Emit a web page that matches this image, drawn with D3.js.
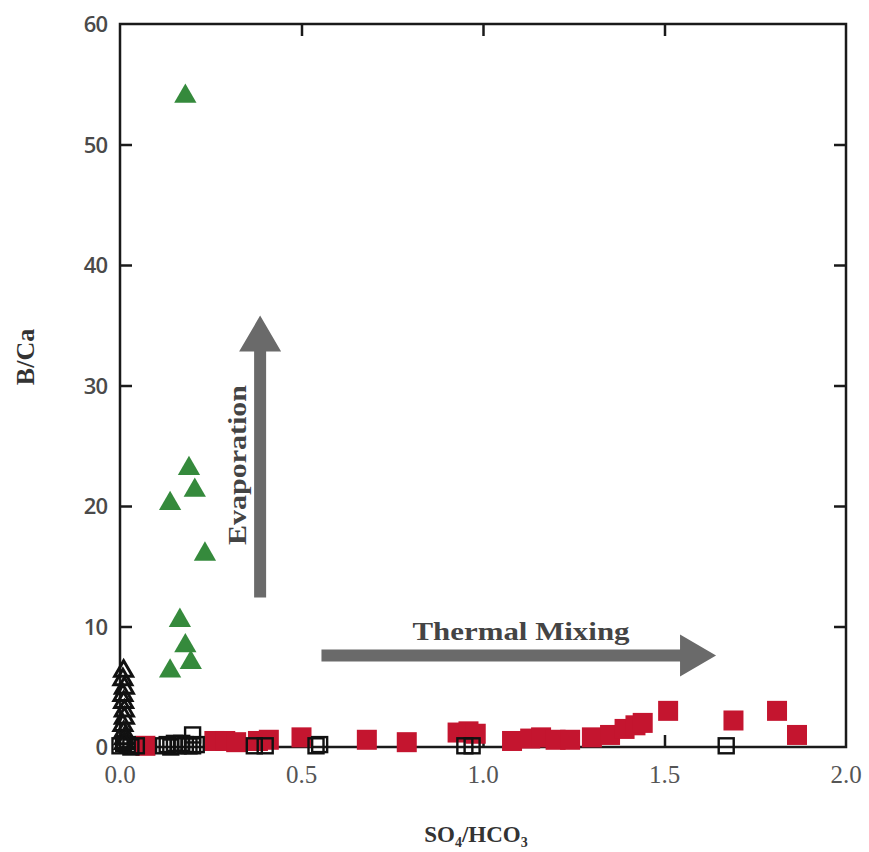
<!DOCTYPE html>
<html>
<head>
<meta charset="utf-8">
<script src="https://cdn.jsdelivr.net/npm/d3@7"></script>
<style>
  html, body { margin: 0; padding: 0; background: #fff; }
  svg { display: block; }
</style>
</head>
<body>
<svg id="chart" width="869" height="852"></svg>
<script>
// ---- Data (SO4/HCO3, B/Ca) ----
const greenTriangles = [
  [0.18, 54.0], [0.138, 20.2], [0.19, 23.1], [0.206, 21.3], [0.234, 16.0],
  [0.165, 10.5], [0.18, 8.4], [0.195, 7.0], [0.138, 6.3]
];
const blackTriangles = [
  [0.01, 6.3], [0.008, 5.6], [0.012, 4.9], [0.008, 4.3], [0.01, 3.7], [0.012, 3.0],
  [0.012, 2.4], [0.008, 1.8], [0.01, 1.2], [0.012, 0.7], [0.012, 0.3]
];
const blackSquares = [
  [0.0, 0.1], [0.01, 0.3], [0.02, 0.2], [0.03, 0.0], [0.045, 0.1],
  [0.12, 0.1], [0.13, 0.2], [0.14, 0.0], [0.15, 0.3], [0.16, 0.1], [0.17, 0.3],
  [0.18, 0.2], [0.19, 0.1], [0.2, 0.1], [0.21, 0.2], [0.2, 1.0],
  [0.37, 0.1], [0.4, 0.1], [0.54, 0.1],
  [0.55, 0.2], [0.95, 0.1], [0.97, 0.1], [1.67, 0.1]
];
const redSquares = [
  [0.07, 0.1], [0.26, 0.5], [0.29, 0.5], [0.32, 0.4], [0.38, 0.5], [0.41, 0.6],
  [0.5, 0.8], [0.68, 0.6], [0.79, 0.4], [0.93, 1.2], [0.96, 1.3], [0.98, 1.1],
  [1.08, 0.5], [1.13, 0.7], [1.16, 0.8], [1.2, 0.6], [1.24, 0.6], [1.3, 0.8],
  [1.35, 1.0], [1.39, 1.5], [1.42, 1.8], [1.44, 2.0], [1.51, 3.0], [1.69, 2.2],
  [1.81, 3.0], [1.865, 1.0]
];
const xTicks = [0, 0.5, 1.0, 1.5, 2.0];
const xTickLabels = ["0.0", "0.5", "1.0", "1.5", "2.0"];
const yTicks = [0, 10, 20, 30, 40, 50, 60];
const yTickLabels = ["0", "10", "20", "30", "40", "50", "60"];
// arrows in data coordinates: [x1,y1] -> [x2,y2]
const evapArrow = [[0.386, 12.4], [0.386, 35.8]];
const mixArrow = [[0.555, 7.6], [1.642, 7.6]];

// ---- Layout ----
const svg = d3.select("#chart");
const L = 120, R = 846, T = 24, B = 747;
const x = d3.scaleLinear().domain([0, 2]).range([L, R]);
const y = d3.scaleLinear().domain([0, 60]).range([B, T]);

svg.append("rect").attr("width", 869).attr("height", 852).attr("fill", "#fff");

// frame
svg.append("rect").attr("x", L).attr("y", T).attr("width", R - L).attr("height", B - T)
  .attr("fill", "none").attr("stroke", "#1a1a1a").attr("stroke-width", 2.5);

// inward ticks on all sides via d3 axes
const tickLen = 12;
const axB = d3.axisBottom(x).tickValues(xTicks.slice(1, -1)).tickSize(-tickLen).tickFormat("");
const axT = d3.axisTop(x).tickValues(xTicks.slice(1, -1)).tickSize(-tickLen).tickFormat("");
const axL = d3.axisLeft(y).tickValues(yTicks.slice(1, -1)).tickSize(-tickLen).tickFormat("");
const axR = d3.axisRight(y).tickValues(yTicks.slice(1, -1)).tickSize(-tickLen).tickFormat("");
[[axB, `translate(0,${B})`], [axT, `translate(0,${T})`], [axL, `translate(${L},0)`], [axR, `translate(${R},0)`]]
  .forEach(([ax, tr]) => {
    const g = svg.append("g").attr("transform", tr).call(ax);
    g.select(".domain").remove();
    g.selectAll("line").attr("stroke", "#1a1a1a").attr("stroke-width", 2.5);
  });

// tick labels
svg.append("g").selectAll("text").data(xTicks).join("text")
  .attr("x", d => x(d)).attr("y", 783)
  .attr("text-anchor", "middle")
  .attr("font-family", "Liberation Serif, serif").attr("font-size", 25)
  .attr("fill", "#555")
  .text((d, i) => xTickLabels[i]);

svg.append("g").selectAll("text").data(yTicks).join("text")
  .attr("x", 107).attr("y", d => y(d) + 8)
  .attr("text-anchor", "end")
  .attr("font-family", "Open Sans, sans-serif").attr("font-weight", 600).attr("font-size", 22)
  .attr("letter-spacing", -1)
  .attr("fill", "#4a4a4a")
  .text((d, i) => yTickLabels[i]);

// axis titles
const xl = svg.append("text").attr("x", 476).attr("y", 842).attr("text-anchor", "middle")
  .attr("font-family", "Liberation Serif, serif").attr("font-weight", "bold").attr("font-size", 23)
  .attr("fill", "#333");
xl.append("tspan").text("SO");
xl.append("tspan").attr("font-size", 14).attr("dy", 5).text("4");
xl.append("tspan").attr("dy", -5).text("/HCO");
xl.append("tspan").attr("font-size", 14).attr("dy", 5).text("3");

svg.append("text").attr("transform", "translate(34,357) rotate(-90)")
  .attr("text-anchor", "middle")
  .attr("font-family", "Liberation Serif, serif").attr("font-weight", "bold").attr("font-size", 26)
  .attr("fill", "#333").text("B/Ca");

// arrows
function arrow(p1, p2) {
  const x1 = x(p1[0]), y1 = y(p1[1]), x2 = x(p2[0]), y2 = y(p2[1]);
  const dx = x2 - x1, dy = y2 - y1, len = Math.hypot(dx, dy);
  const ux = dx / len, uy = dy / len, nx = -uy, ny = ux;
  const headL = 36, headW = 21, shaftW = 6;
  const bx = x2 - ux * headL, by = y2 - uy * headL;
  const pts = [
    [x1 + nx * shaftW, y1 + ny * shaftW], [bx + nx * shaftW, by + ny * shaftW],
    [bx + nx * headW, by + ny * headW], [x2, y2],
    [bx - nx * headW, by - ny * headW], [bx - nx * shaftW, by - ny * shaftW],
    [x1 - nx * shaftW, y1 - ny * shaftW]
  ];
  svg.append("path").attr("d", d3.line()(pts) + "Z").attr("fill", "#6a6a6a");
}
arrow(evapArrow[0], evapArrow[1]);
arrow(mixArrow[0], mixArrow[1]);

svg.append("text").attr("transform", `translate(${x(0.386) - 14},465) rotate(-90)`)
  .attr("text-anchor", "middle")
  .attr("font-family", "Liberation Serif, serif").attr("font-weight", "bold").attr("font-size", 26)
  .attr("textLength", 160).attr("lengthAdjust", "spacingAndGlyphs")
  .attr("fill", "#444").text("Evaporation");

svg.append("text").attr("x", 521).attr("y", 640)
  .attr("text-anchor", "middle")
  .attr("font-family", "Liberation Serif, serif").attr("font-weight", "bold").attr("font-size", 25)
  .attr("textLength", 217).attr("lengthAdjust", "spacingAndGlyphs")
  .attr("fill", "#444").text("Thermal Mixing");

// marks
const side = 20;
svg.append("g").selectAll("rect").data(redSquares).join("rect")
  .attr("x", d => x(d[0]) - side / 2).attr("y", d => y(d[1]) - side / 2)
  .attr("width", side).attr("height", side).attr("fill", "#c4152f");

const bs = 15;
svg.append("g").selectAll("rect").data(blackSquares).join("rect")
  .attr("x", d => x(d[0]) - bs / 2).attr("y", d => y(d[1]) - bs / 2)
  .attr("width", bs).attr("height", bs).attr("fill", "none")
  .attr("stroke", "#111").attr("stroke-width", 2.4);

const triBlack = d3.symbol().type(d3.symbolTriangle).size(140);
svg.append("g").selectAll("path").data(blackTriangles).join("path")
  .attr("transform", d => `translate(${x(d[0])},${y(d[1])})`)
  .attr("d", triBlack).attr("fill", "none").attr("stroke", "#111").attr("stroke-width", 3);

const triGreen = d3.symbol().type(d3.symbolTriangle).size(215);
svg.append("g").selectAll("path").data(greenTriangles).join("path")
  .attr("transform", d => `translate(${x(d[0])},${y(d[1])})`)
  .attr("d", triGreen).attr("fill", "#358a3c");
</script>
</body>
</html>
